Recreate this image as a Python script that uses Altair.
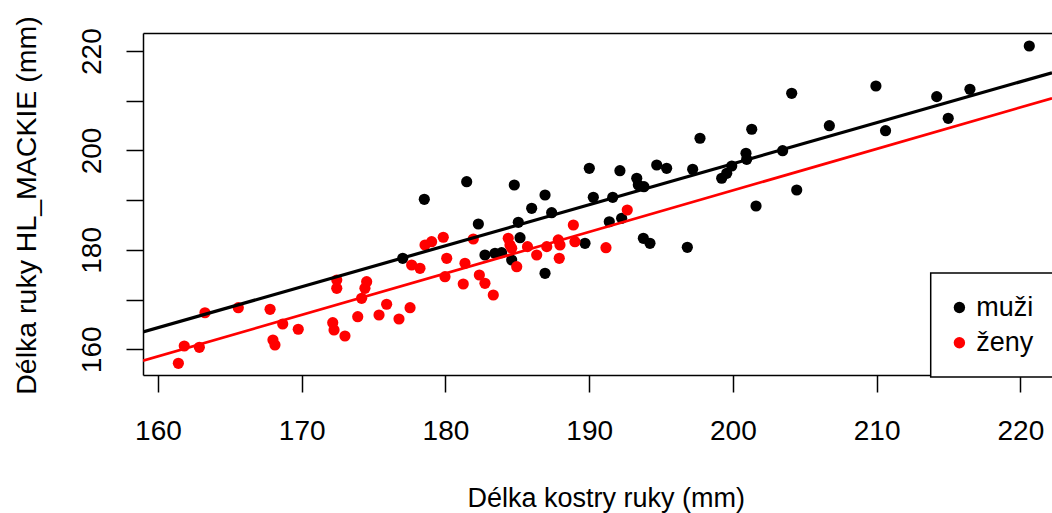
import altair as alt
import pandas as pd

# ---- data ----
groups = ["muži", "ženy"]
group_colors = ["#000000", "#ff0000"]

muzi_x = [177.03, 178.53, 181.48, 184.79, 182.29, 185.07, 185.19, 182.75, 183.45, 183.91,
          184.61, 186.93, 186.00, 187.39, 186.93, 190.01, 192.14, 190.29, 191.64, 193.31,
          193.42, 193.81, 194.70, 195.39, 197.20, 191.40, 192.26, 189.71, 193.77, 194.23,
          196.83, 197.71, 204.09, 209.95, 201.31, 206.71, 210.62, 199.22, 199.57, 199.92,
          200.91, 200.96, 203.46, 204.44, 201.61, 220.62, 214.18, 216.49, 214.98]
muzi_y = [178.31, 190.18, 193.72, 193.06, 185.21, 185.55, 182.46, 178.97, 179.32, 179.44,
          177.97, 191.05, 188.37, 187.49, 175.29, 196.42, 195.94, 190.58, 190.58, 194.41,
          193.06, 192.72, 197.08, 196.42, 196.22, 185.67, 186.36, 181.33, 182.33, 181.33,
          180.52, 202.46, 211.51, 212.98, 204.27, 204.99, 203.98, 194.41, 195.41, 196.88,
          199.44, 198.23, 199.96, 192.05, 188.83, 221.03, 210.83, 212.31, 206.48]

zeny_x = [161.42, 161.83, 162.88, 163.27, 165.59, 167.80, 168.00, 168.14, 168.68, 169.76,
          172.16, 172.25, 172.44, 172.44, 173.01, 174.52, 174.40, 174.17, 173.90, 175.38,
          175.91, 176.77, 177.54, 178.58, 179.04, 179.85, 177.65, 178.23, 180.09, 179.97,
          181.24, 181.36, 181.94, 182.36, 182.75, 183.33, 184.37, 184.49, 184.61, 184.96,
          185.71, 186.35, 187.05, 187.85, 187.97, 187.92, 188.90, 189.01, 191.17, 192.65]
zeny_y = [157.18, 160.66, 160.40, 167.36, 168.37, 168.05, 161.87, 160.87, 165.09, 164.03,
          165.35, 163.88, 173.95, 172.27, 162.68, 173.60, 172.27, 170.26, 166.56, 166.90,
          169.06, 166.10, 168.37, 180.99, 181.65, 182.54, 176.96, 176.30, 178.31, 174.61,
          173.14, 177.30, 182.19, 174.95, 173.28, 170.93, 182.33, 180.99, 180.32, 176.62,
          180.65, 178.97, 180.65, 182.00, 180.99, 178.31, 185.01, 181.65, 180.44, 188.03]

# regression lines (end points read at the plot edges)
line_x = [158.96, 222.2]
muzi_line_y = [163.48, 215.65]
zeny_line_y = [157.71, 210.5]

x_ticks = [160, 170, 180, 190, 200, 210, 220]
y_ticks = [160, 170, 180, 190, 200, 210, 220]
x_domain = [158.96, 222.2]
y_domain = [154.83, 223.64]

x_title = "Délka kostry ruky (mm)"
y_title = "Délka ruky HL_MACKIE (mm)"

# ---- tables ----
pts = pd.DataFrame({
    "x": muzi_x + zeny_x,
    "y": muzi_y + zeny_y,
    "skupina": [groups[0]] * len(muzi_x) + [groups[1]] * len(zeny_x),
})
ln_m = pd.DataFrame({"x": line_x, "y": muzi_line_y})
ln_z = pd.DataFrame({"x": line_x, "y": zeny_line_y})

FONT = "Liberation Sans"
xs = alt.Scale(domain=x_domain, nice=False, zero=False)
ys = alt.Scale(domain=y_domain, nice=False, zero=False)
cs = alt.Scale(domain=groups, range=group_colors)

bottom_axis = alt.Axis(
    values=x_ticks, grid=False, domain=True, domainColor="black", domainWidth=1.5,
    ticks=True, tickSize=17, tickColor="black", tickWidth=1.5,
    labelFont=FONT, labelFontSize=28, labelColor="black", labelPadding=47,
    labelBaseline="alphabetic", labelFlush=False, labelOverlap=False,
    title=x_title, titleFont=FONT, titleFontSize=27, titleFontWeight="normal",
    titleColor="black", titleX=462.8, titleY=131.7, titleBaseline="alphabetic",
    titleAlign="center",
)
left_axis = alt.Axis(
    values=y_ticks, grid=False, domain=True, domainColor="black", domainWidth=1.5,
    ticks=True, tickSize=17, tickColor="black", tickWidth=1.5,
    labelExpr="datum.value % 20 == 0 ? datum.label : ''",
    labelFont=FONT, labelFontSize=28, labelColor="black", labelAngle=270,
    labelAlign="center", labelBaseline="alphabetic", labelPadding=26,
    labelOverlap=False, labelFlush=False,
    title=y_title, titleFont=FONT, titleFontSize=28.5, titleFontWeight="normal",
    titleColor="black", titleAngle=270, titleX=-108, titleY=172,
    titleBaseline="alphabetic", titleAlign="center",
)
top_axis = alt.Axis(
    orient="top", grid=False, domain=True, domainColor="black", domainWidth=1.5,
    ticks=False, labels=False, title=None,
)

legend = alt.Legend(
    title=None, orient="none", legendX=787.7, legendY=240, direction="vertical",
    fillColor="white", strokeColor="black", padding=21, rowPadding=7.3,
    symbolType="circle", symbolSize=130, symbolStrokeWidth=0, symbolOffset=-5.8,
    labelFont=FONT, labelFontSize=27, labelColor="black", labelOffset=3.3,
    labelBaseline="middle",
)

points = alt.Chart(pts).mark_circle(size=125, opacity=1).encode(
    x=alt.X("x:Q", scale=xs, axis=bottom_axis),
    y=alt.Y("y:Q", scale=ys, axis=left_axis),
    color=alt.Color("skupina:N", scale=cs, legend=legend),
)

frame_top = alt.Chart(pts).mark_circle(opacity=0).encode(
    x=alt.X("x:Q", scale=xs, axis=top_axis),
    y=alt.Y("y:Q", scale=ys, axis=None),
)

line_m = alt.Chart(ln_m).mark_line(color="#000000", strokeWidth=3.2, clip=True).encode(
    x=alt.X("x:Q", scale=xs, axis=None),
    y=alt.Y("y:Q", scale=ys, axis=None),
)
line_z = alt.Chart(ln_z).mark_line(color="#ff0000", strokeWidth=2.7, clip=True).encode(
    x=alt.X("x:Q", scale=xs, axis=None),
    y=alt.Y("y:Q", scale=ys, axis=None),
)

chart = (
    alt.layer(points, frame_top, line_m, line_z)
    .resolve_axis(x="independent", y="independent")
    .properties(
        width=909, height=342,
        autosize=alt.AutoSizeParams(type="none"),
        padding={"left": 143, "top": 33, "right": 0, "bottom": 138},
        background="white",
    )
    .configure_view(stroke="transparent")
    .configure_legend(strokeWidth=1.5, cornerRadius=0)
)

chart.save("out.html", embed_options={"renderer": "svg", "actions": False})
